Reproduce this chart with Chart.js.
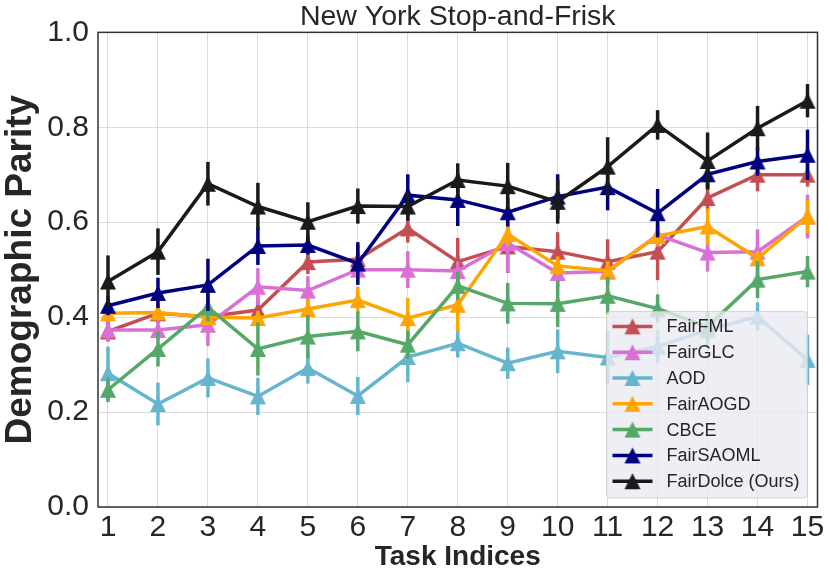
<!DOCTYPE html>
<html><head><meta charset="utf-8">
<script src="https://cdn.jsdelivr.net/npm/chart.js@4"></script>
<style>html,body{margin:0;padding:0;background:#fff}#wrap{width:830px;height:578px}</style>
</head><body><div id="wrap"><canvas id="c" width="830" height="578"></canvas></div>
<script>
const taskIndices = [1,2,3,4,5,6,7,8,9,10,11,12,13,14,15];
const yTickValues = [0, 0.2, 0.4, 0.6, 0.8, 1.0];
const yTickLabels = ['0.0','0.2','0.4','0.6','0.8','1.0'];
const seriesNames = ['FairFML','FairGLC','AOD','FairAOGD','CBCE','FairSAOML','FairDolce (Ours)'];

const fairFML      = [0.370,0.408,0.401,0.415,0.516,0.522,0.587,0.517,0.549,0.538,0.517,0.538,0.651,0.700,0.700];
const fairFMLErr   = [0.020,0.020,0.020,0.025,0.025,0.030,0.030,0.050,0.056,0.041,0.047,0.060,0.030,0.035,0.025];
const fairGLC      = [0.373,0.373,0.384,0.464,0.456,0.500,0.500,0.497,0.556,0.493,0.496,0.573,0.536,0.538,0.612];
const fairGLCErr   = [0.025,0.020,0.045,0.039,0.030,0.020,0.039,0.020,0.062,0.030,0.020,0.025,0.040,0.047,0.046];
const aod          = [0.282,0.217,0.272,0.233,0.293,0.234,0.316,0.345,0.303,0.328,0.315,0.338,0.373,0.401,0.310];
const aodErr       = [0.056,0.045,0.041,0.039,0.033,0.040,0.053,0.030,0.033,0.046,0.055,0.035,0.035,0.030,0.053];
const fairAOGD     = [0.408,0.410,0.400,0.398,0.417,0.436,0.398,0.426,0.575,0.508,0.498,0.571,0.591,0.524,0.612];
const fairAOGDErr  = [0.015,0.015,0.015,0.015,0.020,0.028,0.042,0.056,0.025,0.020,0.020,0.020,0.038,0.015,0.035];
const cbce         = [0.247,0.333,0.421,0.333,0.359,0.370,0.342,0.466,0.429,0.428,0.445,0.418,0.380,0.479,0.496];
const cbceErr      = [0.026,0.037,0.030,0.056,0.046,0.042,0.030,0.030,0.043,0.049,0.040,0.030,0.030,0.039,0.033];
const fairSAOML    = [0.424,0.451,0.468,0.550,0.552,0.513,0.657,0.647,0.621,0.654,0.674,0.619,0.701,0.728,0.742];
const fairSAOMLErr = [0.020,0.032,0.055,0.040,0.020,0.045,0.044,0.055,0.030,0.047,0.049,0.051,0.030,0.030,0.053];
const fairDolce    = [0.475,0.538,0.681,0.633,0.601,0.634,0.633,0.689,0.676,0.643,0.717,0.805,0.729,0.798,0.856];
const fairDolceErr = [0.055,0.049,0.046,0.050,0.041,0.037,0.030,0.035,0.049,0.046,0.062,0.031,0.060,0.047,0.035];

const seriesValues = [fairFML, fairGLC, aod, fairAOGD, cbce, fairSAOML, fairDolce];
const seriesErrors = [fairFMLErr, fairGLCErr, aodErr, fairAOGDErr, cbceErr, fairSAOMLErr, fairDolceErr];
const seriesColors = ['#C44E52','#DA70D6','#64B5CD','#FFA500','#55A868','#000080','#1A1A1A'];

const FONT = "'Liberation Sans', Arial, Helvetica, sans-serif";
const TEXT = '#262626';

function triangleMarker(color) {
  const c = document.createElement('canvas');
  c.width = 18; c.height = 18;
  const g = c.getContext('2d');
  g.fillStyle = color;
  g.beginPath();
  g.moveTo(9, 1); g.lineTo(17, 17); g.lineTo(1, 17); g.closePath();
  g.fill();
  return c;
}
const markers = seriesColors.map(triangleMarker);

const datasets = seriesNames.map((name, i) => ({
  label: name,
  data: seriesValues[i],
  errors: seriesErrors[i],
  borderColor: seriesColors[i],
  backgroundColor: seriesColors[i],
  borderWidth: 3.5,
  pointStyle: markers[i],
  pointRadius: 9,
  pointHoverRadius: 9,
  tension: 0,
  fill: false,
  order: seriesNames.length - i
}));

const errorBars = {
  id: 'errorBars',
  beforeDatasetDraw(chart, args) {
    const ds = chart.data.datasets[args.index];
    const ys = chart.scales.y;
    const ctx = chart.ctx;
    ctx.save();
    ctx.strokeStyle = ds.borderColor;
    ctx.lineWidth = 3.5;
    ctx.lineCap = 'butt';
    args.meta.data.forEach((pt, k) => {
      const v = ds.data[k], e = ds.errors[k];
      ctx.beginPath();
      ctx.moveTo(pt.x, ys.getPixelForValue(v - e));
      ctx.lineTo(pt.x, ys.getPixelForValue(v + e));
      ctx.stroke();
    });
    ctx.restore();
  }
};

const frameAndLegend = {
  id: 'frameAndLegend',
  afterDatasetsDraw(chart) {
    const {ctx, chartArea: a} = chart;
    ctx.save();
    ctx.strokeStyle = '#333333';
    ctx.lineWidth = 1.5;
    ctx.strokeRect(a.left, a.top, a.right - a.left, a.bottom - a.top);
    // legend
    const w = 201, rowH = 25.8, n = chart.data.datasets.length;
    const h = rowH * n + 6;
    const x0 = a.right - 10 - w, y0 = a.bottom - 9 - h;
    ctx.beginPath();
    if (ctx.roundRect) ctx.roundRect(x0, y0, w, h, 4); else ctx.rect(x0, y0, w, h);
    ctx.fillStyle = 'rgba(234,234,242,0.8)';
    ctx.fill();
    ctx.strokeStyle = 'rgba(204,204,204,0.8)';
    ctx.lineWidth = 1;
    ctx.stroke();
    ctx.font = '18px ' + FONT;
    ctx.textBaseline = 'middle';
    ctx.textAlign = 'left';
    chart.data.datasets.forEach((ds, i) => {
      const cy = y0 + 15 + i * rowH;
      ctx.strokeStyle = ds.borderColor;
      ctx.lineWidth = 3.5;
      ctx.beginPath();
      ctx.moveTo(x0 + 6, cy); ctx.lineTo(x0 + 46, cy);
      ctx.stroke();
      ctx.drawImage(ds.pointStyle, x0 + 26 - 9, cy - 9);
      ctx.fillStyle = TEXT;
      ctx.fillText(ds.label, x0 + 60, cy + 1);
    });
    ctx.restore();
  }
};

new Chart(document.getElementById('c'), {
  type: 'line',
  data: { labels: taskIndices, datasets },
  plugins: [errorBars, frameAndLegend],
  options: {
    responsive: false,
    animation: false,
    devicePixelRatio: 1,
    layout: { padding: { top: 0, right: 12, bottom: 0, left: 0 } },
    plugins: {
      legend: { display: false },
      tooltip: { enabled: false },
      title: {
        display: true,
        fullSize: false,
        text: 'New York Stop-and-Frisk',
        color: TEXT,
        font: { family: FONT, size: 28.5, weight: 'normal', lineHeight: 1.1 },
        padding: { top: 1, bottom: 0 }
      }
    },
    scales: {
      x: {
        type: 'linear',
        min: 0.8, max: 15.2,
        afterBuildTicks: (s) => { s.ticks = taskIndices.map(v => ({ value: v })); },
        afterFit: (s) => { s.height = 71; },
        ticks: { color: TEXT, font: { family: FONT, size: 30 }, padding: 3, maxRotation: 0, autoSkip: false,
                 callback: (v) => String(v) },
        grid: { color: '#dcdcdc', lineWidth: 1, drawTicks: false },
        border: { display: false },
        title: { display: true, text: 'Task Indices', color: TEXT,
                 font: { family: FONT, size: 28, weight: 'bold', lineHeight: 1.2 },
                 padding: { top: 0, bottom: 4 } }
      },
      y: {
        min: 0, max: 1,
        afterBuildTicks: (s) => { s.ticks = yTickValues.map(v => ({ value: v })); },
        afterFit: (s) => { s.width = 98; },
        ticks: { color: TEXT, font: { family: FONT, size: 30 }, padding: 9,
                 callback: (v) => yTickLabels[yTickValues.findIndex(t => Math.abs(t - v) < 1e-9)] },
        grid: { color: '#dcdcdc', lineWidth: 1, drawTicks: false },
        border: { display: false },
        title: { display: true, text: 'Demographic Parity', color: TEXT,
                 font: { family: FONT, size: 37, weight: 'bold', lineHeight: 1.0 },
                 padding: { top: 2, bottom: 0 } }
      }
    }
  }
});
</script></body></html>
